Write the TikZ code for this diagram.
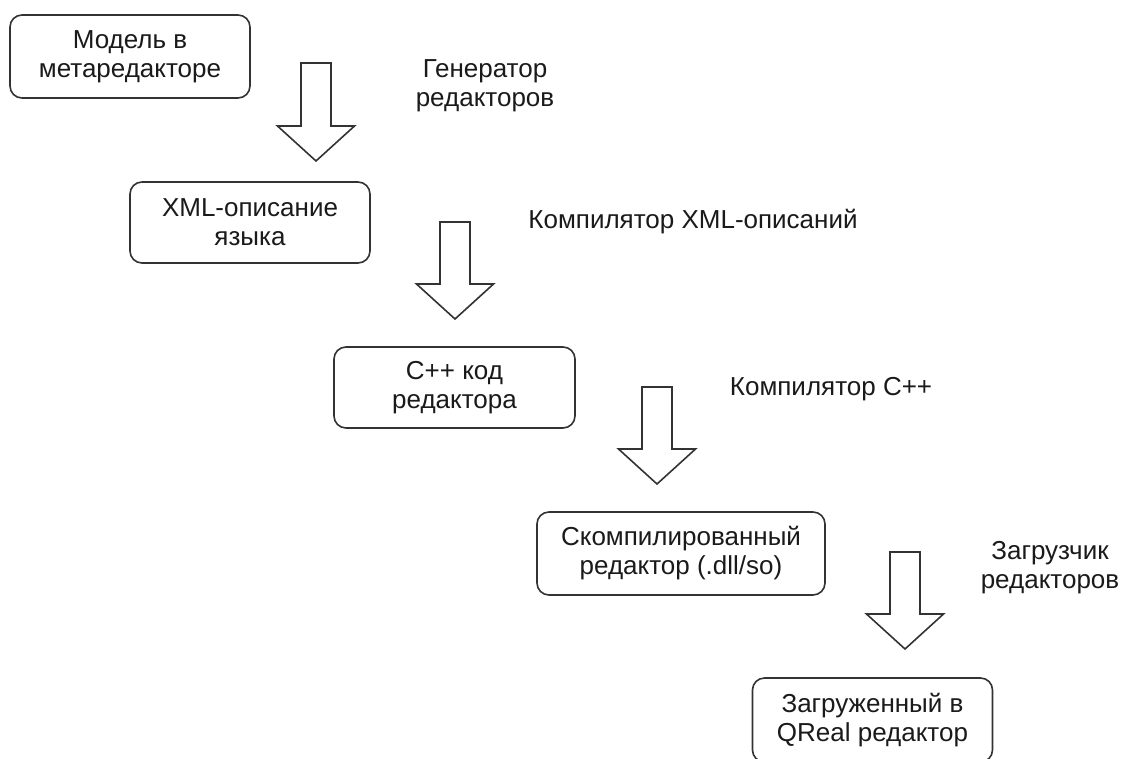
\documentclass[tikz,border=0pt]{standalone}
\usepackage{fontspec}
\setmainfont{Liberation Sans}
\definecolor{linec}{HTML}{333333}
\definecolor{textc}{HTML}{1A1A1A}
\tikzset{
  stagebox/.style={draw=linec, line width=1.6pt, rounded corners=12pt, fill=white,
    text=textc, align=center, inner sep=0pt,
    font=\fontsize{26}{29}\selectfont},
  steplabel/.style={text=textc, align=center, inner sep=0pt,
    font=\fontsize{26}{29}\selectfont},
  blockarrow/.style={draw=linec, line width=1.6pt, fill=white, line join=miter}
}
\newcommand\downblock[3]{%
  \draw[blockarrow] ({#1-15},{#2}) -- ({#1+15},{#2}) -- ({#1+15},{#3-35})
    -- ({#1+38.5},{#3-35}) -- ({#1},{#3}) -- ({#1-38.5},{#3-35})
    -- ({#1-15},{#3-35}) -- cycle;}
\begin{document}
\begin{tikzpicture}[x=1pt,y=-1pt]
\clip (0,0) rectangle (1122,758);
\useasboundingbox (0,0) rectangle (1122,758);
\fill[white] (0,0) rectangle (1122,758);

\node[stagebox, minimum width=240pt, minimum height=83pt] (b1) at (130,56.5) {Модель в\\метаредакторе};
\node[stagebox, minimum width=240pt, minimum height=81pt] (b2) at (250,222.5) {XML-описание\\языка};
\node[stagebox, minimum width=241pt, minimum height=81pt] (b3) at (454.5,387.5) {C++ код\\редактора};
\node[stagebox, minimum width=288pt, minimum height=83pt] (b4) at (681,553.5) {Скомпилированный\\редактор (.dll/so)};
\node[stagebox, minimum width=240pt, minimum height=84pt] (b5) at (872.5,720) {Загруженный в\\QReal редактор};

\downblock{316}{63}{161}
\downblock{455}{222}{319}
\downblock{657}{387}{484}
\downblock{905}{552}{649}

\node[steplabel] (l1) at (485,86) {Генератор\\редакторов};
\node[steplabel] (l2) at (693,222) {Компилятор XML-описаний};
\node[steplabel] (l3) at (831,389) {Компилятор C++};
\node[steplabel] (l4) at (1050,568) {Загрузчик\\редакторов};
\end{tikzpicture}
\end{document}
